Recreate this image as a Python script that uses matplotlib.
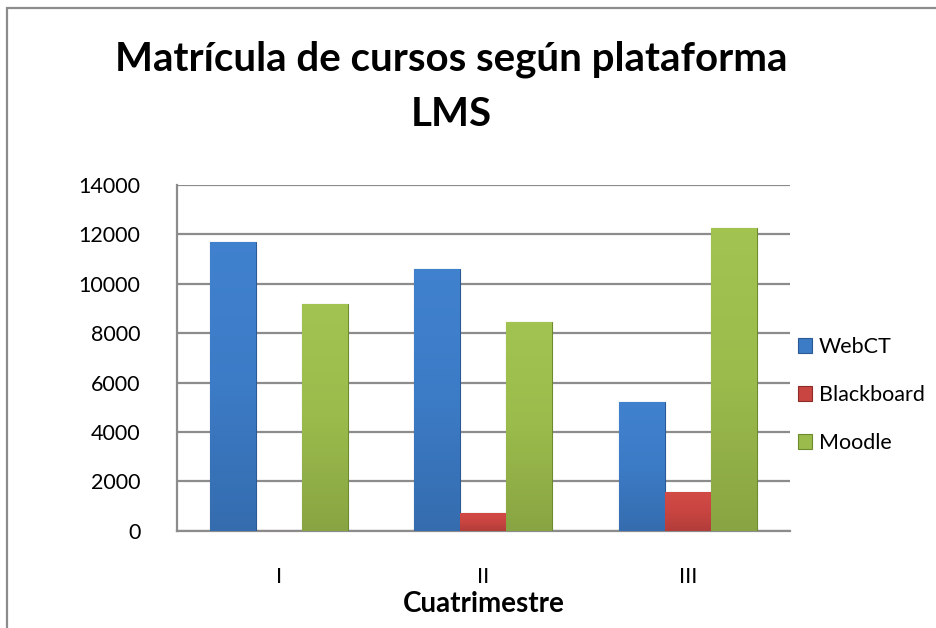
import matplotlib
matplotlib.use("Agg")
import matplotlib.pyplot as plt
import numpy as np
from matplotlib.patches import Rectangle
from matplotlib.colors import LinearSegmentedColormap, to_rgb

categories = ["I", "II", "III"]
series_names = ["WebCT", "Blackboard", "Moodle"]
webct = [11700, 10600, 5200]
blackboard = [0, 700, 1550]
moodle = [9200, 8450, 12250]
yticks = [0, 2000, 4000, 6000, 8000, 10000, 12000, 14000]

colors = ["#3c7bc6", "#c94541", "#9bbb4c"]
edges = ["#2a5a96", "#8e2a27", "#6e8a2e"]

plt.rcParams['font.family'] = ['Lato', 'DejaVu Sans']

fig = plt.figure(figsize=(9.36, 6.28), dpi=100)
W, H = 936, 628
ax = fig.add_axes([176.7 / W, 1 - 530.7 / H, (790 - 176.7) / W, (530.7 - 185) / H])

x = np.arange(len(categories))
bw = 0.225
data = [webct, blackboard, moodle]
handles = []
for i, (vals, c, ec, name) in enumerate(zip(data, colors, edges, series_names)):
    bars = ax.bar(x + (i - 1) * bw, vals, width=bw, color=c, edgecolor=ec,
                  linewidth=0.8, zorder=3, label=name)
    handles.append(bars)
    base = np.array(to_rgb(c))
    cmap = LinearSegmentedColormap.from_list(
        "g%d" % i, [np.clip(base * 0.88, 0, 1), base, np.clip(base * 1.03 + 0.01, 0, 1)])
    grad = np.linspace(0, 1, 256).reshape(-1, 1)
    for b in bars:
        if b.get_height() <= 0:
            continue
        x0, w, h = b.get_x(), b.get_width(), b.get_height()
        im = ax.imshow(grad, extent=(x0, x0 + w, 0, h), origin="lower",
                       cmap=cmap, aspect="auto", zorder=3.5, interpolation="bilinear")
        im.set_clip_path(b)

ax.set_xlim(-0.5, len(categories) - 0.5)
ax.set_ylim(0, 14000)
ax.set_yticks(yticks)
ax.set_yticklabels([str(v) for v in yticks])
ax.set_xticks(x)
ax.set_xticklabels(categories)
ax.tick_params(axis="y", length=0, pad=26, labelsize=15.5)
ax.tick_params(axis="x", length=0, pad=26, labelsize=15.5)
ax.grid(axis="y", color="#8c8c8c", linewidth=1.6, zorder=0)
ax.set_axisbelow(True)
for s in ["top", "right"]:
    ax.spines[s].set_visible(False)
for s in ["left", "bottom"]:
    ax.spines[s].set_color("#8c8c8c")
    ax.spines[s].set_linewidth(1.6)

ax.set_xlabel("Cuatrimestre", fontsize=20, fontweight="bold", labelpad=3)

fig.text(451 / W, 1 - 87 / H, "Matrícula de cursos según plataforma\nLMS",
         ha="center", va="center", fontsize=29, fontweight="bold", linespacing=1.6)

fig.legend(handles=handles, labels=series_names, loc="center left",
           bbox_to_anchor=(789 / W, 1 - 395 / H), frameon=False, fontsize=15.5,
           handlelength=0.65, handleheight=0.65, handletextpad=0.35,
           labelspacing=1.3, borderaxespad=0)

fig.patches.append(Rectangle((7 / W, -0.1), 2, 1.1 - 8 / H, transform=fig.transFigure,
                             fill=False, edgecolor="#8c8c8c", linewidth=1.6))

fig.savefig("out.png", dpi=100, facecolor="white")
